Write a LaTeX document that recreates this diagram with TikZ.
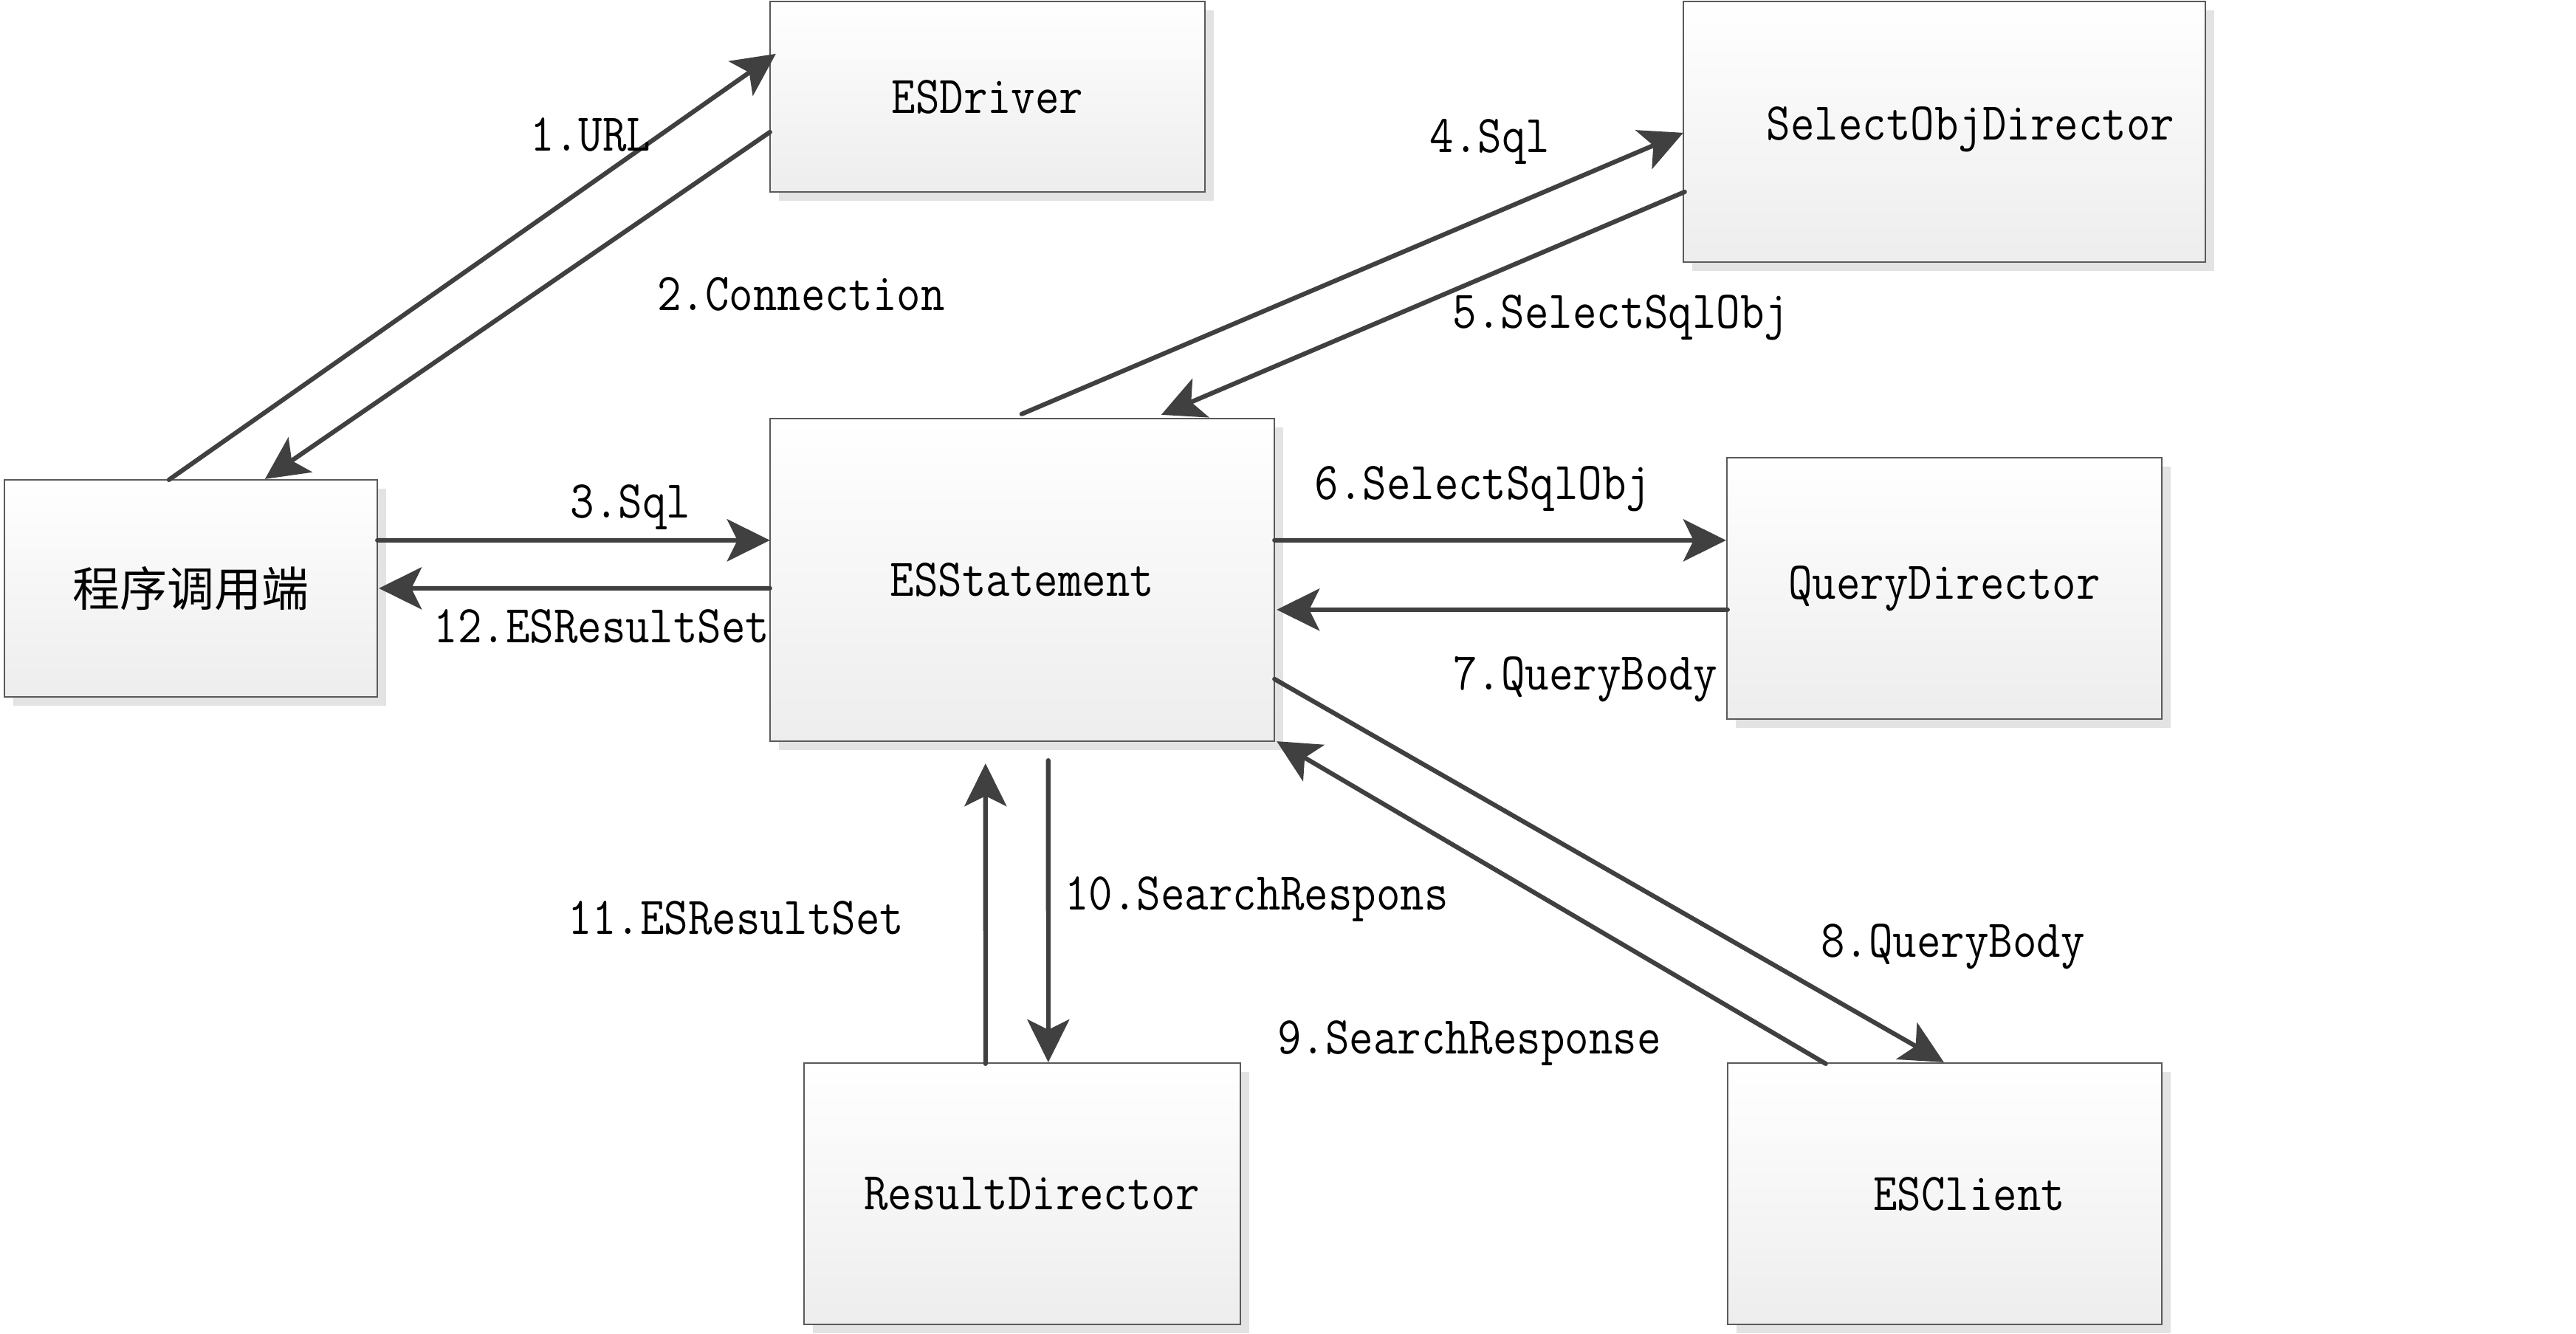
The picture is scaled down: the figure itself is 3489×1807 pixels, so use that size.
\documentclass[tikz,border=0pt]{standalone}
\usepackage{fontspec}
\usepackage{graphicx}
\newfontfamily\cjk{Noto Sans CJK SC}
\usetikzlibrary{arrows.meta,shadows,calc}
\definecolor{linegray}{HTML}{404040}
\definecolor{boxborder}{HTML}{5A5A5A}
\newcommand\mono[1]{\scalebox{0.875}[1]{#1}}
\tikzset{
  box/.style={draw=boxborder, line width=0.7pt, top color=white, bottom color=black!7,
    inner sep=0pt, outer sep=0pt,
    general shadow={fill=black!11, shadow xshift=0.12cm, shadow yshift=-0.12cm},
    font=\fontsize{20.5}{23}\selectfont\ttfamily},
  flow/.style={draw=linegray, line width=1.75pt, line cap=round,
    -{Stealth[length=0.58cm,width=0.57cm,inset=0.14cm]}},
  lab/.style={font=\fontsize{20.5}{23}\selectfont\ttfamily, inner sep=0pt, text=black}
}
\begin{document}
\begin{tikzpicture}[x=0.01cm,y=-0.01cm]
\fill[white] (0,0) rectangle (3489,1807);
\useasboundingbox (0,0) rectangle (3489,1807);

% boxes
\node[box, minimum width=5.05cm, minimum height=2.94cm] (cli) at (258.5,797)
  {\cjk\fontsize{18.2}{20}\selectfont 程序调用端};
\node[box, minimum width=5.89cm, minimum height=2.58cm] (drv) at (1337.5,131) {\mono{ESDriver}};
\node[box, minimum width=6.83cm, minimum height=4.37cm] (stm) at (1384.5,785.5) {\mono{ESStatement}};
\node[box, minimum width=7.07cm, minimum height=3.53cm,
  label={[lab,xshift=0.355cm,yshift=0.03cm]center:\mono{SelectObjDirector}}] (sel) at (2633.5,178.5) {};
\node[box, minimum width=5.89cm, minimum height=3.54cm] (qry) at (2633.5,797) {\mono{QueryDirector}};
\node[box, minimum width=5.91cm, minimum height=3.54cm,
  label={[lab,xshift=0.13cm]center:\mono{ResultDirector}}] (res) at (1384.5,1617) {};
\node[box, minimum width=5.88cm, minimum height=3.54cm,
  label={[lab,xshift=0.33cm]center:\mono{ESClient}}] (esc) at (2634,1617) {};

% connectors
\draw[flow] ($(cli.north west)+(223,0)$) -- ($(drv.north west)+(8,71)$);
\draw[flow] ($(drv.north west)+(0,177)$) -- ($(cli.north west)+(353,-1)$);
\draw[flow] ($(cli.north east)+(0,82)$) -- ($(stm.north west)+(0,165)$);
\draw[flow] ($(stm.north west)+(0,230)$) -- ($(cli.north east)+(2,147)$);
\draw[flow] ($(stm.north west)+(341,-6)$) -- ($(sel.north west)+(0,178)$);
\draw[flow] ($(sel.north west)+(2,258)$) -- ($(stm.north west)+(530,-5)$);
\draw[flow] ($(stm.north east)+(0,165)$) -- ($(qry.north west)+(-1,112)$);
\draw[flow] ($(qry.north west)+(1,206)$) -- ($(stm.north east)+(3,259)$);
\draw[flow] ($(stm.north east)+(0,353)$) -- ($(esc.north west)+(293,-1)$);
\draw[flow] ($(esc.north west)+(133,1)$) -- ($(stm.south east)+(3,0)$);
\draw[flow] ($(stm.south west)+(377,26)$) -- ($(res.north west)+(331,-1)$);
\draw[flow] ($(res.north west)+(246,1)$) -- ($(stm.south west)+(292,30)$);

% labels
\node[lab] (l1) at (800,182) {\mono{1.URL}};
\node[lab] (l2) at (1085,398) {\mono{2.Connection}};
\node[lab] (l3) at (854,687) {\mono{3.Sql}};
\node[lab] (l4) at (2018,192) {\mono{4.Sql}};
\node[lab] (l5) at (2195,430) {\mono{5.SelectSqlObj}};
\node[lab] (l6) at (2008,662) {\mono{6.SelectSqlObj}};
\node[lab] (l7) at (2147,920) {\mono{7.QueryBody}};
\node[lab] (l8) at (2645,1282) {\mono{8.QueryBody}};
\node[lab] (l9) at (1990,1413) {\mono{9.SearchResponse}};
\node[lab] (l10) at (1702,1218) {\mono{10.SearchRespons}};
\node[lab] (l11) at (997,1243) {\mono{11.ESResultSet}};
\node[lab] (l12) at (815,848) {\mono{12.ESResultSet}};
\end{tikzpicture}
\end{document}
